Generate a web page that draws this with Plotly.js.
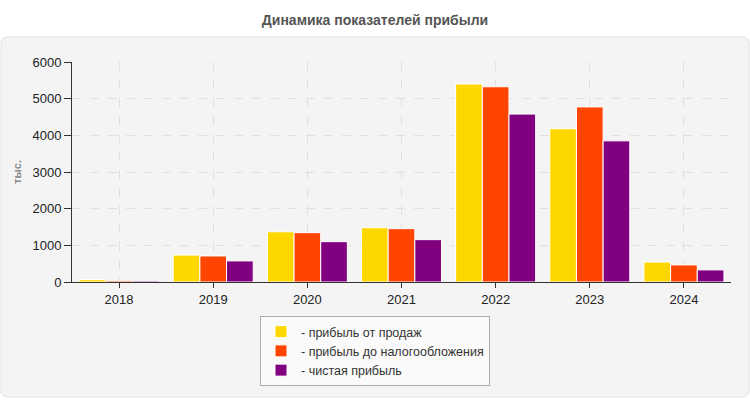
<!DOCTYPE html>
<html>
<head>
<meta charset="utf-8">
<script src="https://cdn.plot.ly/plotly-3.0.1.min.js"></script>
<style>html,body{margin:0;padding:0;background:#fff;}#chart{width:750px;height:400px;}</style>
</head>
<body>
<div id="chart"></div>
<script>
const years = ['2018','2019','2020','2021','2022','2023','2024'];
const salesProfit = [65, 735, 1370, 1480, 5400, 4180, 545];
const pretaxProfit = [35, 710, 1345, 1455, 5325, 4775, 465];
const netProfit = [30, 575, 1100, 1155, 4580, 3850, 330];
const seriesNames = ['- прибыль от продаж', '- прибыль до налогообложения', '- чистая прибыль'];
const seriesColors = ['#FFD700', '#FF4500', '#800080'];
const yTicks = [0, 1000, 2000, 3000, 4000, 5000, 6000];

const W = 750, H = 400;
const mL = 72, mR = 19, mT = 62, mB = 118;
const pw = W - mL - mR, ph = H - mT - mB;
const px = x => (x - mL) / pw;
const py = y => (H - mB - y) / ph;

function roundRect(x0, y0, x1, y1, r) {
  const rx = r / pw, ry = r / ph;
  const X0 = px(x0), X1 = px(x1), Yt = py(y0), Yb = py(y1);
  return `M ${X0 + rx} ${Yt} L ${X1 - rx} ${Yt} Q ${X1} ${Yt} ${X1} ${Yt - ry} ` +
         `L ${X1} ${Yb + ry} Q ${X1} ${Yb} ${X1 - rx} ${Yb} L ${X0 + rx} ${Yb} ` +
         `Q ${X0} ${Yb} ${X0} ${Yb + ry} L ${X0} ${Yt - ry} Q ${X0} ${Yt} ${X0 + rx} ${Yt} Z`;
}

const allSeries = [salesProfit, pretaxProfit, netProfit];
const traces = allSeries.map((vals, i) => ({
  type: 'bar',
  x: years,
  y: vals,
  name: seriesNames[i],
  marker: {color: seriesColors[i], line: {color: '#ffffff', width: 1}},
  hoverinfo: 'x+y'
}));

const font = 'Liberation Sans, Arial, sans-serif';
const layout = {
  width: W, height: H,
  margin: {l: mL, r: mR, t: mT, b: mB},
  paper_bgcolor: '#ffffff',
  plot_bgcolor: '#fbfbf7',
  font: {family: font, size: 13, color: '#222'},
  title: {
    text: 'Динамика показателей прибыли',
    font: {family: font, size: 14, color: '#555', weight: 'bold'},
    x: 0.5, xref: 'container', xanchor: 'center',
    y: 1 - 20 / H, yref: 'container', yanchor: 'middle'
  },
  barmode: 'group',
  bargap: 0.15,
  bargroupgap: 0,
  xaxis: {
    type: 'category',
    showgrid: true, gridcolor: '#e0e0e0', griddash: 'dash', gridwidth: 1,
    showline: true, linecolor: '#333', linewidth: 1,
    ticks: 'outside', ticklen: 5, tickcolor: '#333',
    tickfont: {family: font, size: 13, color: '#222'},
    fixedrange: true
  },
  yaxis: {
    range: [0, 6000],
    tickvals: yTicks,
    ticktext: yTicks.map(String),
    showgrid: true, gridcolor: '#e0e0e0', griddash: 'dash', gridwidth: 1,
    zeroline: false,
    showline: true, linecolor: '#333', linewidth: 1,
    ticks: 'outside', ticklen: 7, tickcolor: '#333',
    tickfont: {family: font, size: 13, color: '#222'},
    title: {text: 'тыс.', font: {family: font, size: 11, color: '#888', weight: 'bold'}, standoff: 8},
    fixedrange: true
  },
  showlegend: true,
  legend: {
    orientation: 'v',
    x: px(375), xanchor: 'center',
    y: py(316), yanchor: 'top',
    bgcolor: '#fafafa',
    bordercolor: '#aaaaaa', borderwidth: 1,
    font: {family: font, size: 12.5, color: '#333'},
    itemwidth: 30,
    tracegroupgap: 0,
    traceorder: 'normal'
  },
  shapes: [{
    type: 'path', xref: 'paper', yref: 'paper', layer: 'below',
    path: roundRect(1, 37, 749, 397, 7),
    fillcolor: '#f4f4f4',
    line: {color: '#e2e2e2', width: 1}
  }]
};

Plotly.newPlot('chart', traces, layout, {displayModeBar: false, staticPlot: true});
</script>
</body>
</html>
